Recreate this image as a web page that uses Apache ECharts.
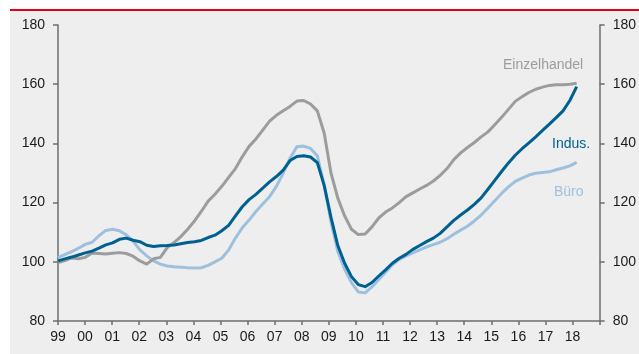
<!DOCTYPE html>
<html>
<head>
<meta charset="utf-8">
<script src="https://cdn.jsdelivr.net/npm/echarts@6/dist/echarts.min.js"></script>
<style>
  html, body { margin: 0; padding: 0; background: #ffffff; }
  #chart { width: 639px; height: 354px; }
</style>
</head>
<body>
<div id="chart"></div>
<script>
// Quarterly index values (1999 = 100), Q1 1999 .. Q1 2018
const seriesNames = ['Einzelhandel', 'Indus.', 'Büro'];

const einzelhandel = [
  99.7, 100.4, 101.3, 101.0, 101.5, 103.0, 102.8, 102.6,
  102.9, 103.1, 102.8, 101.9, 100.3, 99.2, 101.0, 101.5,
  104.8, 106.5, 108.5, 111.0, 113.8, 117.0, 120.5, 122.8,
  125.5, 128.5, 131.5, 135.5, 139.0, 141.5, 144.5, 147.5,
  149.5, 151.0, 152.5, 154.3, 154.5, 153.3, 151.0, 143.5,
  130.0, 121.5, 115.5, 111.0, 109.2, 109.4, 111.8, 114.8,
  116.8, 118.2, 120.0, 122.0, 123.3, 124.6, 125.8, 127.3,
  129.2, 131.5, 134.5, 136.8, 138.6, 140.3, 142.2, 143.9,
  146.3, 148.8, 151.5, 154.2, 155.8, 157.2, 158.3, 159.0,
  159.6, 159.8, 159.8, 160.0, 160.3
];

const industrie = [
  100.3, 101.0, 101.6, 102.3, 103.0, 103.6, 104.6, 105.7,
  106.4, 107.6, 108.0, 107.3, 106.8, 105.6, 105.2, 105.4,
  105.5, 105.7, 106.1, 106.5, 106.8, 107.2, 108.2, 109.0,
  110.5, 112.3, 115.5, 118.6, 121.0, 122.8, 124.9, 127.0,
  128.8, 131.0, 134.2, 135.6, 135.8, 135.4, 133.5, 125.8,
  115.0, 105.5, 99.5, 95.0, 92.3, 91.6, 93.0, 95.2,
  97.3, 99.5, 101.2, 102.5, 104.2, 105.5, 106.8, 108.0,
  109.6, 111.8, 114.0, 115.8, 117.5, 119.4, 121.6, 124.5,
  127.5, 130.5, 133.4, 136.0, 138.2, 140.2, 142.2, 144.4,
  146.5, 148.7, 151.0, 154.5, 159.2
];

const buero = [
  101.5, 102.4, 103.4, 104.6, 105.9, 106.6, 108.8, 110.6,
  111.0, 110.5, 109.1, 107.0, 104.0, 102.0, 100.3, 99.2,
  98.6, 98.3, 98.2, 98.0, 97.9, 98.0, 98.8, 100.0,
  101.2, 104.0, 108.0, 111.5, 114.1, 117.0, 119.5, 122.0,
  125.5, 130.0, 135.0, 138.9, 139.1, 138.3, 135.8, 126.0,
  113.5, 103.5, 97.5, 93.0, 89.8, 89.5, 91.5, 94.0,
  96.5, 99.0, 100.8, 102.0, 103.0, 104.0, 105.0, 105.8,
  106.6, 107.8, 109.3, 110.7, 112.0, 113.8, 115.8, 118.2,
  120.6, 123.1, 125.3, 127.2, 128.3, 129.3, 129.9, 130.2,
  130.4, 131.1, 131.7, 132.4, 133.6
];

// Year ticks shown along the bottom
const yearLabels = ['99','00','01','02','03','04','05','06','07','08','09',
                    '10','11','12','13','14','15','16','17','18'];
const firstYear = 1999;
const lastYear = 2019;
const yTicks = [80, 100, 120, 140, 160, 180];

// Position of each quarterly observation on the year axis
const quarterPos = i => firstYear + i * 0.252;
const toPairs = arr => arr.map((v, i) => [quarterPos(i), v]);

const colors = {
  'Einzelhandel': '#9b9c9e',
  'Indus.': '#00608f',
  'Büro': '#9dc0de'
};
const FONT = '"Liberation Sans", Arial, sans-serif';
const axisColor = '#6e6e6e';

const chart = echarts.init(document.getElementById('chart'), null, { renderer: 'canvas' });

const yAxisBase = {
  type: 'value',
  min: yTicks[0],
  max: yTicks[yTicks.length - 1],
  interval: 20,
  axisLine: { show: true, lineStyle: { color: axisColor, width: 1.5 } },
  axisTick: { show: true, length: 5, lineStyle: { color: axisColor, width: 1.5 } },
  splitLine: { show: false },
  axisLabel: { fontFamily: FONT, fontSize: 14, color: '#1a1a1a', margin: 13 }
};

chart.setOption({
  animation: false,
  backgroundColor: '#ffffff',
  graphic: [
    { type: 'rect', z: -10, silent: true,
      shape: { x: 10, y: 11, width: 629, height: 343 },
      style: { fill: '#eeeeee' } },
    { type: 'rect', z: -9, silent: true,
      shape: { x: 10, y: 9, width: 629, height: 2 },
      style: { fill: '#e2001a' } },
    { type: 'text', left: 503, top: 58, silent: true,
      style: { text: seriesNames[0], fill: colors['Einzelhandel'], font: '14px ' + FONT } },
    { type: 'text', left: 552, top: 137, silent: true,
      style: { text: seriesNames[1], fill: colors['Indus.'], font: '14px ' + FONT } },
    { type: 'text', left: 554, top: 185, silent: true,
      style: { text: seriesNames[2], fill: colors['Büro'], font: '14px ' + FONT } }
  ],
  grid: { left: 58, right: 32, top: 25, bottom: 33, containLabel: false },
  xAxis: {
    type: 'value',
    min: firstYear,
    max: lastYear,
    interval: 1,
    axisLine: { show: true, onZero: false, lineStyle: { color: axisColor, width: 1.5 } },
    axisTick: { show: true, length: 4, lineStyle: { color: axisColor, width: 1.5 } },
    splitLine: { show: false },
    axisLabel: {
      fontFamily: FONT, fontSize: 14, color: '#1a1a1a', margin: 9,
      showMaxLabel: true, showMinLabel: true,
      formatter: v => {
        const idx = Math.round(v) - firstYear;
        return idx >= 0 && idx < yearLabels.length ? yearLabels[idx] : '';
      }
    }
  },
  yAxis: [
    Object.assign({}, yAxisBase, { position: 'left' }),
    Object.assign({}, yAxisBase, { position: 'right' })
  ],
  series: [
    { name: seriesNames[2], type: 'line', data: toPairs(buero), showSymbol: false,
      symbol: 'none', z: 2,
      lineStyle: { color: colors['Büro'], width: 3, join: 'round' } },
    { name: seriesNames[0], type: 'line', data: toPairs(einzelhandel), showSymbol: false,
      symbol: 'none', z: 3,
      lineStyle: { color: colors['Einzelhandel'], width: 3, join: 'round' } },
    { name: seriesNames[1], type: 'line', data: toPairs(industrie), showSymbol: false,
      symbol: 'none', z: 4,
      lineStyle: { color: colors['Indus.'], width: 3, join: 'round' } }
  ]
});
</script>
</body>
</html>
